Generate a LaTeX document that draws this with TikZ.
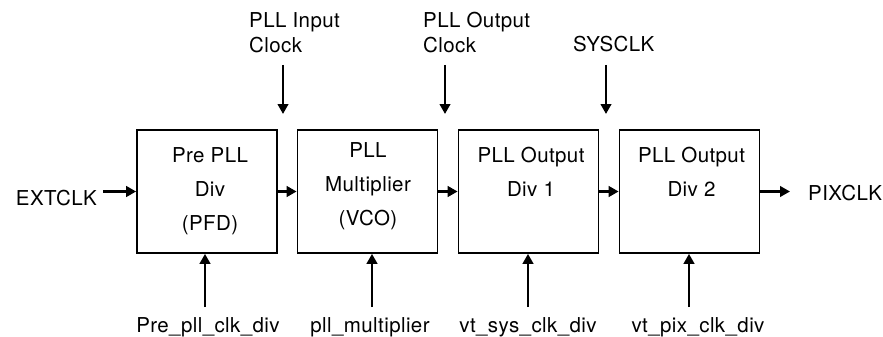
\documentclass[tikz,border=0pt]{standalone}
\usepackage{fontspec}
\setmainfont{TeX Gyre Heros}[LetterSpace=2]
\usetikzlibrary{arrows.meta}
\begin{document}
\begin{tikzpicture}[x=1pt,y=-1pt,
  blk/.style={draw,line width=1.7pt,minimum width=140pt,minimum height=123pt,inner sep=0pt},
  txt/.style={font=\fontsize{20.5}{24.5}\selectfont,inner sep=0pt},
  btxt/.style={font=\fontsize{20.5}{34}\selectfont,inner sep=0pt,align=center},
  arr/.style={line width=2.6pt,-{Triangle[length=10pt,width=10.5pt]}}]
\useasboundingbox (0,0) rectangle (883,337);
% boxes
\node[blk] (b1) at (207,191.5) {};
\node[blk] (b2) at (367.5,191.5) {};
\node[blk] (b3) at (528.5,191.5) {};
\node[blk] (b4) at (689.5,191.5) {};
% box texts
\node[btxt] (t1) at (210,191.5) {Pre PLL\\Div\\(PFD)};
\node[btxt] (t2) at (368,186) {PLL\\Multiplier\\(VCO)};
\node[btxt] (t3) at (531,171.5) {PLL Output\\Div 1};
\node[btxt] (t4) at (691.5,171.5) {PLL Output\\Div 2};
% side labels
\node[txt,anchor=base east] (ext) at (97,205) {EXTCLK};
\node[txt,anchor=base west] (pix) at (808,200) {PIXCLK};
% top labels
\node[txt,anchor=west,align=left] (pin) at (249,32.5) {PLL Input\\Clock};
\node[txt,anchor=west,align=left] (pout) at (423,32.5) {PLL Output\\Clock};
\node[txt,anchor=base west] (sys) at (573,52) {SYSCLK};
% bottom labels
\node[txt,anchor=base] (l1) at (208,332) {Pre\_pll\_clk\_div};
\node[txt,anchor=base] (l2) at (370,332) {pll\_multiplier};
\node[txt,anchor=base] (l3) at (528,332) {vt\_sys\_clk\_div};
\node[txt,anchor=base] (l4) at (698,332) {vt\_pix\_clk\_div};
% horizontal arrows
\coordinate (ein) at (103,191.5);
\coordinate (pend) at (790,191.5);
\draw[arr] (ein) -- (b1.west);
\draw[arr] (b1) -- (b2);
\draw[arr] (b2) -- (b3);
\draw[arr] (b3) -- (b4);
\draw[arr] (b4.east) -- (pend);
% top arrows
\coordinate (a1) at (283,65); \coordinate (a1e) at (283,114);
\coordinate (a2) at (445,65); \coordinate (a2e) at (445,114);
\coordinate (a3) at (606,65); \coordinate (a3e) at (606,114);
\draw[arr] (a1) -- (a1e);
\draw[arr] (a2) -- (a2e);
\draw[arr] (a3) -- (a3e);
% bottom arrows
\coordinate (s1) at (205,307);
\coordinate (s2) at (372,307);
\coordinate (s3) at (528,307);
\coordinate (s4) at (689,307);
\draw[arr] (s1) -- (s1 |- b1.south);
\draw[arr] (s2) -- (s2 |- b2.south);
\draw[arr] (s3) -- (s3 |- b3.south);
\draw[arr] (s4) -- (s4 |- b4.south);
\end{tikzpicture}
\end{document}
